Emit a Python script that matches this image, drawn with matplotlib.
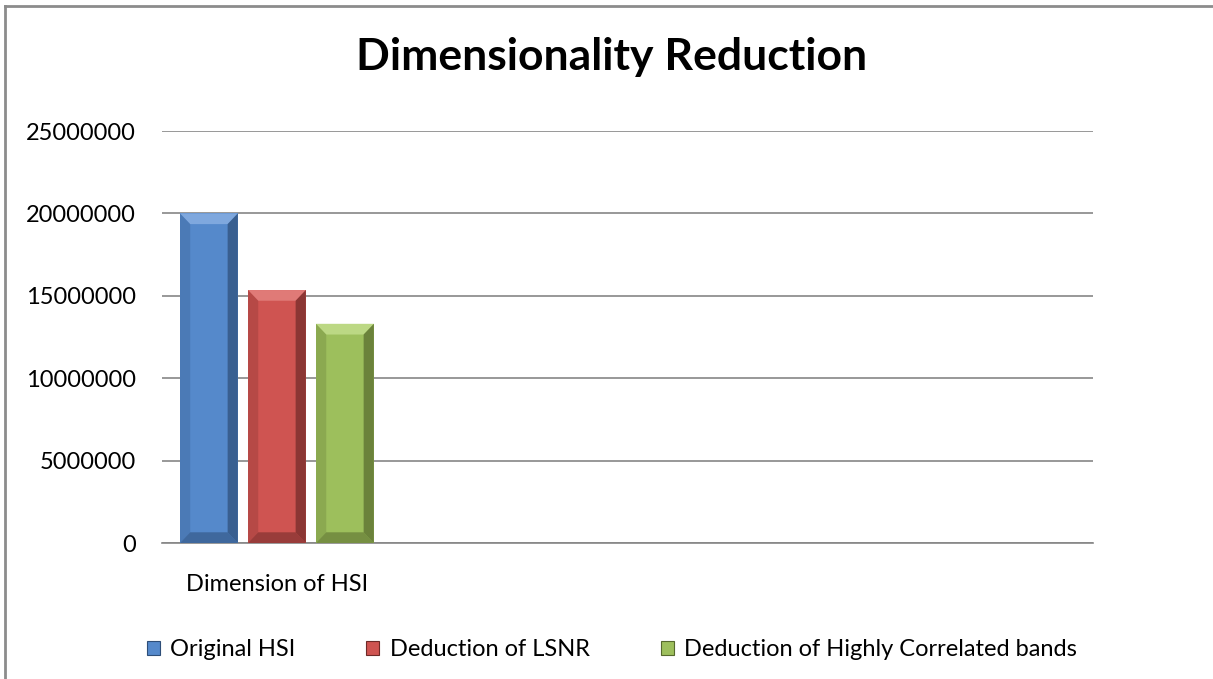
import numpy as np
import matplotlib.pyplot as plt
from matplotlib.patches import Polygon
from matplotlib.lines import Line2D

# data
category = "Dimension of HSI"
series = ["Original HSI", "Deduction of LSNR", "Deduction of Highly Correlated bands"]
values = [20000000, 15350000, 13300000]
yticks = [0, 5000000, 10000000, 15000000, 20000000, 25000000]

face = ["#5589CB", "#CF5451", "#9DBF5C"]
light = ["#7FA8DE", "#E07A77", "#BCD884"]
dark = ["#2E4E78", "#6E2A28", "#56692E"]

plt.rcParams['font.family'] = ['Lato', 'DejaVu Sans']

fig = plt.figure(figsize=(12.13, 6.79), dpi=100)
ax = fig.add_axes([162 / 1213, 1 - 543 / 679, (1093 - 162) / 1213, (543 - 131) / 679])

x = np.arange(len(values))
width = 0.85
bars = ax.bar(x, values, width=width, color=face, zorder=3)

# bevel look on each bar
bx = 0.15
by = 650000
for i, b in enumerate(bars):
    x0, x1 = b.get_x(), b.get_x() + b.get_width()
    h = b.get_height()
    ax.add_patch(Polygon([(x0, h), (x1, h), (x1 - bx, h - by), (x0 + bx, h - by)],
                         closed=True, color=light[i], zorder=4, lw=0))
    ax.add_patch(Polygon([(x1, h), (x1, 0), (x1 - bx, by), (x1 - bx, h - by)],
                         closed=True, color=dark[i], alpha=0.7, zorder=4, lw=0))
    ax.add_patch(Polygon([(x0, 0), (x1, 0), (x1 - bx, by), (x0 + bx, by)],
                         closed=True, color=dark[i], alpha=0.55, zorder=4, lw=0))
    ax.add_patch(Polygon([(x0, h), (x0, 0), (x0 + bx, by), (x0 + bx, h - by)],
                         closed=True, color=dark[i], alpha=0.25, zorder=4, lw=0))

ax.set_xlim(-0.69, 13.0)
ax.set_ylim(0, 25000000)
ax.set_yticks(yticks)
ax.set_yticklabels([str(t) for t in yticks], fontsize=17)
ax.yaxis.grid(True, color="#868686", lw=1.2, zorder=0)
ax.tick_params(axis='y', length=0, pad=19)
ax.set_xticks([1])
ax.set_xticklabels([category], fontsize=17)
ax.tick_params(axis='x', length=0, pad=22)
for s in ["top", "right", "left"]:
    ax.spines[s].set_visible(False)
ax.spines["bottom"].set_color("#868686")
ax.spines["bottom"].set_linewidth(1.2)

fig.text(612 / 1213, 1 - 57 / 679, "Dimensionality Reduction", ha="center", va="center",
         fontsize=32, fontweight="bold")

handles = [plt.Rectangle((0, 0), 1, 1, facecolor=c, edgecolor=d, lw=0.8)
           for c, d in zip(face, dark)]
fig.legend(handles, series, loc="center", bbox_to_anchor=(612 / 1213, 1 - 650 / 679), ncol=3,
           frameon=False, fontsize=17, handlelength=0.55, handleheight=0.55,
           handletextpad=0.45, columnspacing=3.0)

# outer border
fig.add_artist(Line2D([5 / 1213, 5 / 1213], [0, 1 - 6 / 679], color="#8c8c8c", lw=2,
                      transform=fig.transFigure))
fig.add_artist(Line2D([5 / 1213, 1], [1 - 6 / 679, 1 - 6 / 679], color="#8c8c8c", lw=2,
                      transform=fig.transFigure))

fig.savefig("out.png", dpi=100)
